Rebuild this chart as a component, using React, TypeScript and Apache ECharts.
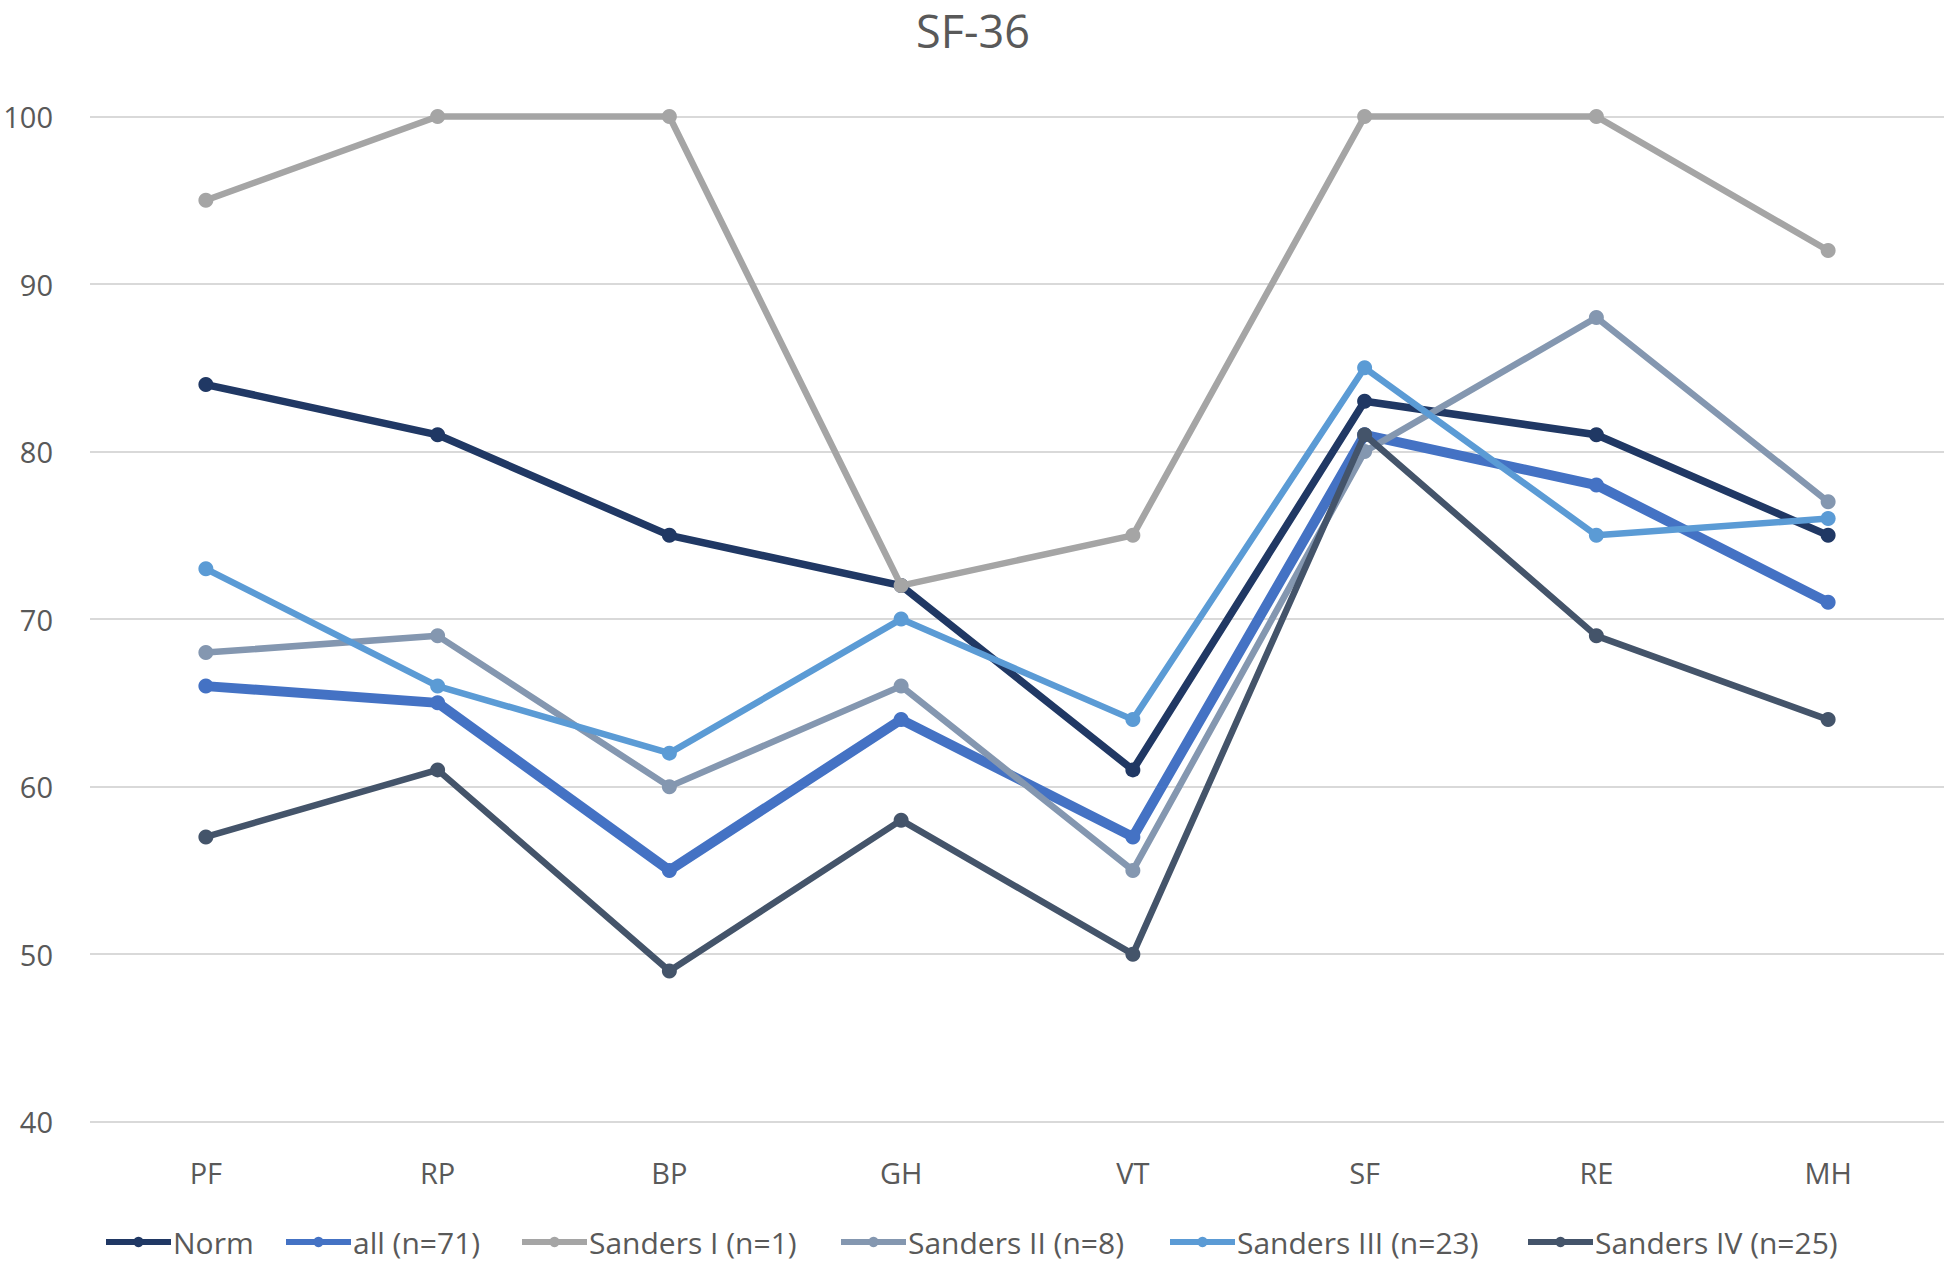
import React, { useEffect, useRef } from "react";
import * as echarts from "echarts";

const categories = ["PF", "RP", "BP", "GH", "VT", "SF", "RE", "MH"];
const yTicks = { min: 40, max: 100, interval: 10 };

const normValues = [84, 81, 75, 72, 61, 83, 81, 75];
const allValues = [66, 65, 55, 64, 57, 81, 78, 71];
const sanders1Values = [95, 100, 100, 72, 75, 100, 100, 92];
const sanders2Values = [68, 69, 60, 66, 55, 80, 88, 77];
const sanders3Values = [73, 66, 62, 70, 64, 85, 75, 76];
const sanders4Values = [57, 61, 49, 58, 50, 81, 69, 64];

const seriesNames = [
  "Norm",
  "all (n=71)",
  "Sanders I (n=1)",
  "Sanders II (n=8)",
  "Sanders III (n=23)",
  "Sanders IV (n=25)",
];
const seriesData = [normValues, allValues, sanders1Values, sanders2Values, sanders3Values, sanders4Values];
const seriesColors = ["#203864", "#4472c4", "#a5a5a5", "#8497b0", "#5b9bd5", "#44546a"];
const seriesWidths = [7.5, 10, 6.5, 6.5, 6.5, 6.5];
const legendLefts = [103, 283, 519, 838, 1167, 1525];

const FONT = "'Open Sans', sans-serif";
const TEXT = "#595959";

export default function App() {
  const ref = useRef<HTMLDivElement>(null);
  useEffect(() => {
    if (!ref.current) return;
    const chart = echarts.init(ref.current, undefined, { renderer: "svg" });
    chart.setOption({
      animation: false,
      backgroundColor: "#ffffff",
      textStyle: { fontFamily: FONT },
      title: {
        text: "SF-36",
        left: "center",
        top: 8,
        padding: 0,
        textStyle: {
          fontFamily: FONT,
          fontSize: 45,
          lineHeight: 45,
          fontWeight: "normal",
          color: TEXT,
        },
      },
      grid: { left: 90, right: 2, top: 116.5, bottom: 142.3, containLabel: false },
      legend: seriesNames.map((name, i) => ({
        left: legendLefts[i],
        top: 1227,
        padding: 0,
        itemWidth: 65,
        itemHeight: 13,
        lineStyle: { width: 6 },
        textStyle: { fontFamily: FONT, fontSize: 30, color: TEXT, padding: [0, 0, 0, -3] },
        data: [name],
      })),
      xAxis: {
        type: "category",
        data: categories,
        boundaryGap: true,
        axisLine: { show: false },
        axisTick: { show: false },
        axisLabel: { fontFamily: FONT, fontSize: 29, color: TEXT, margin: 36 },
      },
      yAxis: {
        type: "value",
        min: yTicks.min,
        max: yTicks.max,
        interval: yTicks.interval,
        axisLine: { show: false },
        axisTick: { show: false },
        axisLabel: { fontFamily: FONT, fontSize: 29, color: TEXT, margin: 37 },
        splitLine: { lineStyle: { color: "#d9d9d9", width: 2 } },
      },
      series: seriesNames.map((name, i) => ({
        name,
        type: "line",
        data: seriesData[i],
        symbol: "circle",
        symbolSize: 15,
        clip: false,
        itemStyle: { color: seriesColors[i] },
        lineStyle: { color: seriesColors[i], width: seriesWidths[i] },
        z: 2 + i,
      })),
    });
    return () => chart.dispose();
  }, []);
  return (
    <div
      ref={ref}
      style={{ position: "absolute", left: 0, top: 0, width: 1946, height: 1264 }}
    />
  );
}
